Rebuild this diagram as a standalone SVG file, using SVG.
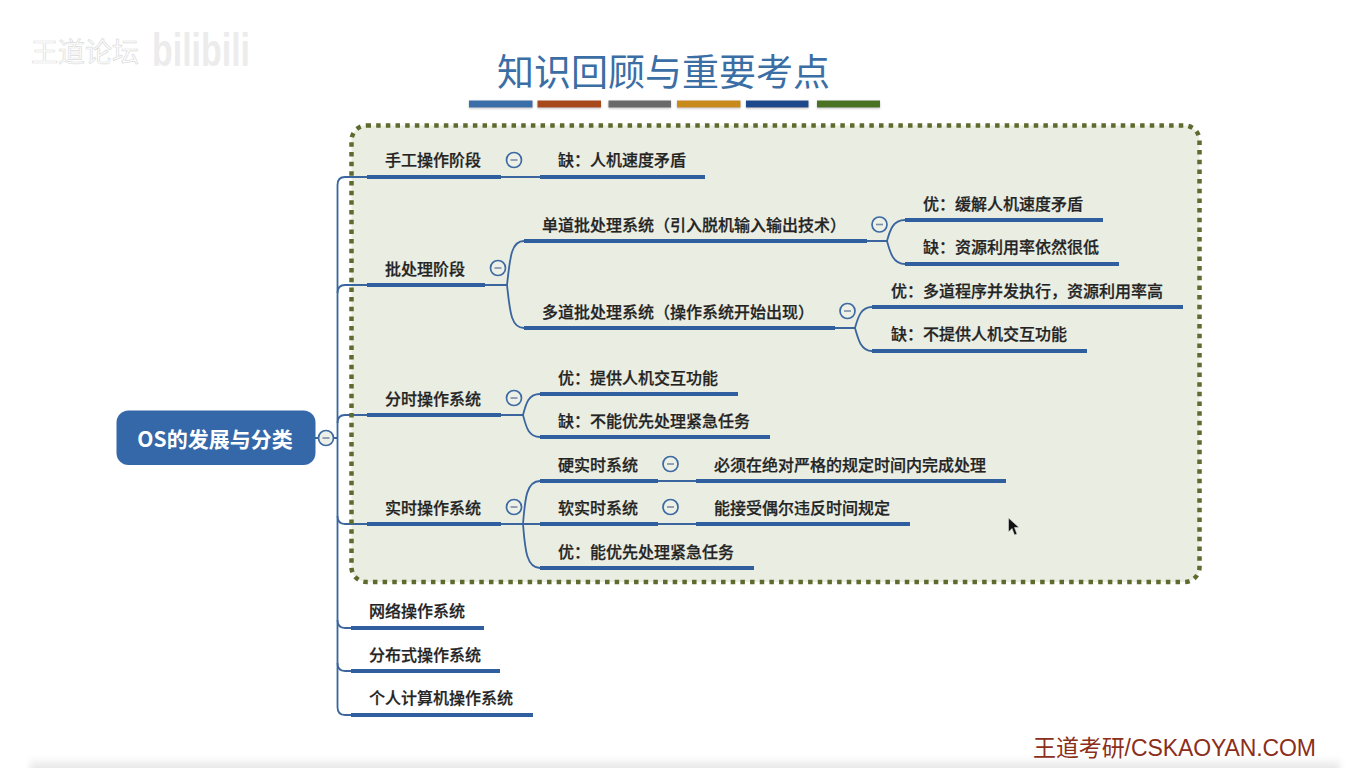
<svg xmlns="http://www.w3.org/2000/svg" width="1366" height="768" viewBox="0 0 1366 768">
<defs>
<linearGradient id="floor" x1="0" y1="0" x2="0" y2="1"><stop offset="0" stop-color="#fff"/><stop offset="1" stop-color="#dcdcdc"/></linearGradient>
<filter id="soft" x="-5%" y="-5%" width="110%" height="110%"><feGaussianBlur stdDeviation="0.35"/></filter>
<filter id="edge" x="-5%" y="-50%" width="110%" height="200%"><feGaussianBlur stdDeviation="3"/></filter>
<filter id="barshadow" x="-5%" y="-30%" width="110%" height="200%"><feDropShadow dx="0" dy="1" stdDeviation="1" flood-color="#999" flood-opacity=".6"/></filter>
<g id="minus"><circle r="7.5" fill="#edf0e6" stroke="#3d6aa3" stroke-width="1.7"/><path d="M-3.5 0H3.5" stroke="#7d8ea8" stroke-width="1.6"/></g>
</defs>
<style>
text{font-family:"Noto Sans CJK SC","Noto Sans",sans-serif}
.t{font-size:16px;font-weight:500;fill:#232323;stroke:#232323;stroke-width:.25px}
.u{fill:none;stroke:#2f5f9f;stroke-width:4}
.c{fill:none;stroke:#3a659f;stroke-width:1.8}
.bar{height:7px}
</style>
<rect width="1366" height="768" fill="#fff"/>
<rect x="30" y="757" width="1310" height="16" fill="url(#floor)" filter="url(#edge)"/>

<g id="watermark">
<text x="31" y="62" font-size="27" fill="#fff" stroke="#dcdcdc" stroke-width=".7">王道论坛</text>
<text x="152" y="66" font-size="46" font-weight="700" fill="#ececec" textLength="98" lengthAdjust="spacingAndGlyphs" style="font-family:'Liberation Sans',sans-serif">bilibili</text>
</g>

<g id="title">
<text x="497" y="86" font-size="37" fill="#3a6ea5" textLength="333">知识回顾与重要考点</text>
<g filter="url(#barshadow)">
<rect class="bar" x="469" y="100.500" width="63.500" fill="#3a6ea8"/>
<rect class="bar" x="537.500" y="100.500" width="63.500" fill="#a84a1c"/>
<rect class="bar" x="608.500" y="100.500" width="62.500" fill="#6b6b6b"/>
<rect class="bar" x="677" y="100.500" width="63.500" fill="#c98a1e"/>
<rect class="bar" x="746" y="100.500" width="62.500" fill="#1e4a8c"/>
<rect class="bar" x="817" y="100.500" width="63" fill="#4a7322"/>
</g>
</g>

<rect id="panel" x="351.500" y="125.500" width="848" height="456.500" rx="15" fill="#eaede2"/>

<g id="connectors" filter="url(#soft)">
<path class="c" d="M315 438H319M333 438H337.500"/>
<path class="c" d="M367 177H345Q337.500 177 337.500 185V707Q337.500 715 345 715H351"/>
<path class="c" d="M367 285H345Q337.500 285 337.500 293"/>
<path class="c" d="M367 415H345Q337.500 415 337.500 423"/>
<path class="c" d="M367 524H345Q337.500 524 337.500 516"/>
<path class="c" d="M351 628H345Q337.500 628 337.500 620"/>
<path class="c" d="M351 671H345Q337.500 671 337.500 663"/>
<path class="c" d="M501 177H540"/>
<path class="c" d="M485 285H507C510 258 511 241 524 241M507 285C510 312 511 328 524 328"/>
<path class="c" d="M867 241H887C890 230 893 220 905 220M887 241C890 252 893 264 905 264"/>
<path class="c" d="M835 328H855C858 317 861 307 872 307M855 328C858 339 861 351 872 351"/>
<path class="c" d="M501 415H523C526 404 528 394 540 394M523 415C526 426 528 437 540 437"/>
<path class="c" d="M501 524H540M523 524C525 500 526 481 540 481M523 524C525 548 526 568 540 568"/>
<path class="c" d="M658 481H696M658 524H696"/>
</g>

<rect id="panel-border" x="351.500" y="125.500" width="848" height="456.500" rx="15" fill="none" stroke="#5d6b2e" stroke-width="4.500" stroke-dasharray="4.500 5.170"/>

<g id="root">
<rect x="116.500" y="410.500" width="199" height="54.500" rx="12" fill="#3568a8"/>
<text x="215" y="447" font-size="21" font-weight="700" fill="#fff" text-anchor="middle">OS的发展与分类</text>
<use href="#minus" x="326" y="438"/>
</g>
<g id="n1"><text class="t" x="385" y="166">手工操作阶段</text><path class="u" d="M367 177H501"/><use href="#minus" x="514" y="160"/></g>
<g id="n1a"><text class="t" x="558" y="166">缺&#xFF1A;人机速度矛盾</text><path class="u" d="M540 177H705"/></g>
<g id="n2"><text class="t" x="385" y="275">批处理阶段</text><path class="u" d="M367 285H485"/><use href="#minus" x="498" y="268"/></g>
<g id="n2a"><text class="t" x="542" y="231">单道批处理系统&#xFF08;引入脱机输入输出技术&#xFF09;</text><path class="u" d="M524 241H867"/><use href="#minus" x="879.500" y="224.500"/></g>
<g id="n2a1"><text class="t" x="923" y="210">优&#xFF1A;缓解人机速度矛盾</text><path class="u" d="M905 220H1103"/></g>
<g id="n2a2"><text class="t" x="923" y="253">缺&#xFF1A;资源利用率依然很低</text><path class="u" d="M905 264H1119"/></g>
<g id="n2b"><text class="t" x="542" y="318">多道批处理系统&#xFF08;操作系统开始出现&#xFF09;</text><path class="u" d="M524 328H835"/><use href="#minus" x="847.500" y="311"/></g>
<g id="n2b1"><text class="t" x="891" y="297">优&#xFF1A;多道程序并发执行&#xFF0C;资源利用率高</text><path class="u" d="M872 307H1183"/></g>
<g id="n2b2"><text class="t" x="891" y="340">缺&#xFF1A;不提供人机交互功能</text><path class="u" d="M872 351H1087"/></g>
<g id="n3"><text class="t" x="385" y="405">分时操作系统</text><path class="u" d="M367 415H501"/><use href="#minus" x="514" y="398"/></g>
<g id="n3a"><text class="t" x="558" y="384">优&#xFF1A;提供人机交互功能</text><path class="u" d="M540 394H738"/></g>
<g id="n3b"><text class="t" x="558" y="427">缺&#xFF1A;不能优先处理紧急任务</text><path class="u" d="M540 437H770"/></g>
<g id="n4"><text class="t" x="385" y="514">实时操作系统</text><path class="u" d="M367 524H501"/><use href="#minus" x="514" y="507"/></g>
<g id="n4a"><text class="t" x="558" y="471">硬实时系统</text><path class="u" d="M540 481H658"/><use href="#minus" x="670.500" y="464"/></g>
<g id="n4a1"><text class="t" x="714" y="471">必须在绝对严格的规定时间内完成处理</text><path class="u" d="M696 481H1006"/></g>
<g id="n4b"><text class="t" x="558" y="514">软实时系统</text><path class="u" d="M540 524H658"/><use href="#minus" x="670.500" y="507"/></g>
<g id="n4b1"><text class="t" x="714" y="514">能接受偶尔违反时间规定</text><path class="u" d="M696 524H910"/></g>
<g id="n4c"><text class="t" x="558" y="558">优&#xFF1A;能优先处理紧急任务</text><path class="u" d="M540 568H754"/></g>
<g id="n5"><text class="t" x="369" y="617">网络操作系统</text><path class="u" d="M351 628H484"/></g>
<g id="n6"><text class="t" x="369" y="661">分布式操作系统</text><path class="u" d="M351 671H500"/></g>
<g id="n7"><text class="t" x="369" y="704">个人计算机操作系统</text><path class="u" d="M351 715H533"/></g>

<path id="cursor" d="M1008.500 518V532L1012 528.500L1014.500 535L1017 534L1014.500 527.500L1019 527.500Z" fill="#111" stroke="#ddd" stroke-width=".6"/>
<text id="brand" x="1033" y="756" font-size="23" fill="#8b2f1c" textLength="283" style="font-family:'Liberation Sans','Noto Sans CJK SC',sans-serif">王道考研/CSKAOYAN.COM</text>
</svg>
